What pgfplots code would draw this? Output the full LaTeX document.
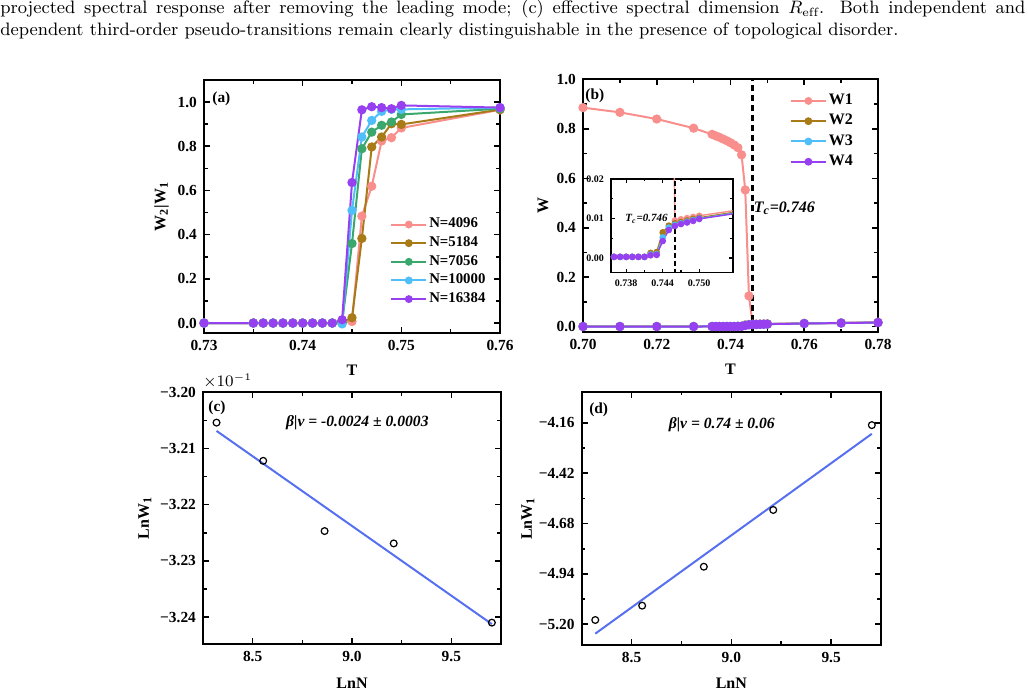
\documentclass[border=0pt]{standalone}
\usepackage{fontspec}
\usepackage{pgfplots}
\usepackage{pgfplotstable}
\pgfplotsset{compat=1.18}
\newfontfamily\tnr{Liberation Serif}

\definecolor{cpink}{RGB}{248,143,140}
\definecolor{cbrown}{RGB}{168,122,24}
\definecolor{cgreen}{RGB}{58,168,108}
\definecolor{cblue}{RGB}{80,190,248}
\definecolor{cpurple}{RGB}{150,64,240}
\definecolor{cfit}{RGB}{86,112,240}

% W2/W1 ratio for several system sizes
\pgfplotstableread{
T      N4096  N5184  N7056  N10000  N16384
0.730  0.000  0.000  0.000  0.000   0.000
0.735  0.000  0.000  0.000  0.000   0.000
0.736  0.000  0.000  0.000  0.000   0.000
0.737  0.000  0.000  0.000  0.000   0.000
0.738  0.000  0.000  0.000  0.000   0.000
0.739  0.000  0.000  0.000  0.000   0.000
0.740  0.000  0.000  0.000  0.000   0.000
0.741  0.000  0.000  0.000  0.000   0.000
0.742  0.000  0.000  0.000  0.000   0.000
0.743  0.000  0.000  0.000  0.000   0.000
0.744  0.000  0.003  0.002  -0.004  0.015
0.745  0.007  0.024  0.360  0.510   0.636
0.746  0.484  0.383  0.789  0.842   0.965
0.747  0.619  0.797  0.864  0.917   0.979
0.748  0.824  0.842  0.895  0.958   0.975
0.749  0.839  0.902  0.910  0.967   0.970
0.750  0.883  0.899  0.944  0.967   0.985
0.760  0.965  0.966  0.970  0.975   0.975
}\ratiotab

% spectral weights W1..W4
\pgfplotstableread{
T      W1      W2      W3      W4
0.700  0.886   0.0003  0.0002  0.0002
0.710  0.867   0.0003  0.0002  0.0002
0.720  0.840   0.0003  0.0002  0.0002
0.730  0.803   0.0003  0.0002  0.0002
0.735  0.778   0.0003  0.0003  0.0003
0.736  0.772   0.0003  0.0003  0.0003
0.737  0.766   0.0003  0.0003  0.0003
0.738  0.759   0.0003  0.0003  0.0003
0.739  0.752   0.0003  0.0003  0.0003
0.740  0.744   0.0003  0.0003  0.0003
0.741  0.735   0.0003  0.0003  0.0003
0.742  0.724   0.0013  0.0009  0.0007
0.743  0.695   0.0015  0.0010  0.0008
0.744  0.553   0.0065  0.0052  0.0043
0.745  0.124   0.0082  0.0077  0.0071
0.746  0.0095  0.0088  0.0084  0.0081
0.747  0.0098  0.0091  0.0088  0.0086
0.748  0.0101  0.0095  0.0092  0.0090
0.749  0.0104  0.0099  0.0096  0.0094
0.750  0.0107  0.0102  0.0100  0.0099
0.760  0.0130  0.0126  0.0124  0.0122
0.770  0.0150  0.0146  0.0144  0.0142
0.780  0.0170  0.0166  0.0164  0.0162
}\weighttab

\pgfplotsset{
  panel/.style={
    scale only axis,
    scaled ticks=false,
    axis line style={line width=1pt},
    tick align=inside,
    xtick pos=both, ytick pos=both,
    xticklabel pos=lower, yticklabel pos=left,
    major tick length=3pt, minor tick length=1.8pt,
    tick style={black, line width=0.8pt},
    minor x tick num=1, minor y tick num=1,
    tick label style={font=\tnr\bfseries\fontsize{7.7}{8.5}\selectfont},
    label style={font=\tnr\bfseries\fontsize{8}{9}\selectfont},
    /pgf/number format/assume math mode=true,
  },
  xprec/.style={xticklabel style={/pgf/number format/fixed, /pgf/number format/fixed zerofill, /pgf/number format/precision=#1}},
  yprec/.style={yticklabel style={/pgf/number format/fixed, /pgf/number format/fixed zerofill, /pgf/number format/precision=#1}},
  ser/.style={line width=1pt, mark=*, mark size=1.8pt, mark options={solid}},
  lineleg/.style={
    legend image code/.code={
      \draw[mark repeat=2,mark phase=2,##1,mark size=1.45pt] plot coordinates {(0pt,0pt) (8.75pt,0pt) (17.5pt,0pt)};
    },
  },
}

\begin{document}
\begin{tikzpicture}
\path[use as bounding box] (0pt,0pt) rectangle (514pt,347.5pt);

\node[anchor=base west, inner sep=0pt, font=\fontsize{9}{11}\selectfont] at (0pt,340.5pt)
  {\hbox to 512.5pt{projected spectral response after removing the leading mode; (c) effective spectral dimension $R_{\mathrm{eff}}$. Both independent and}};
\node[anchor=base west, inner sep=0pt, font=\fontsize{9}{11}\selectfont] at (0pt,329.5pt)
  {dependent third-order pseudo-transitions remain clearly distinguishable in the presence of topological disorder.};

% (a) ratio W2/W1
\begin{axis}[panel, lineleg, xprec=2, yprec=1,
  at={(102pt,181pt)}, anchor=south west,
  width=148pt, height=126.5pt,
  xmin=0.73, xmax=0.76, ymin=-0.045, ymax=1.1,
  xtick={0.73,0.74,0.75,0.76}, ytick={0,0.2,0.4,0.6,0.8,1.0},
  xlabel={T}, ylabel={W\textsubscript{2}|W\textsubscript{1}},
  xlabel style={at={(axis description cs:0.5,-0.146)},anchor=center},
  ylabel style={at={(axis description cs:-0.143,0.5)},anchor=center},
  legend cell align=left,
  legend style={draw=none, fill=none, at={(rel axis cs:0.628,0.462)}, anchor=north west,
    font=\tnr\bfseries\fontsize{7.4}{8}\selectfont, inner sep=0pt, row sep=1.3pt,
    nodes={inner xsep=1pt, inner ysep=0.8pt}},
]
\addplot[cpink, ser] table[x=T,y=N4096]{\ratiotab}; \addlegendentry{N=4096}
\addplot[cbrown, ser] table[x=T,y=N5184]{\ratiotab}; \addlegendentry{N=5184}
\addplot[cgreen, ser] table[x=T,y=N7056]{\ratiotab}; \addlegendentry{N=7056}
\addplot[cblue, ser] table[x=T,y=N10000]{\ratiotab}; \addlegendentry{N=10000}
\addplot[cpurple, ser] table[x=T,y=N16384]{\ratiotab}; \addlegendentry{N=16384}
\node[anchor=north west, inner sep=0pt, font=\tnr\bfseries\fontsize{7.7}{8}\selectfont] at (rel axis cs:0.027,0.953) {(a)};
\end{axis}

% (b) weights W1..W4
\begin{axis}[panel, lineleg, xprec=2, yprec=1,
  at={(291.5pt,181.25pt)}, anchor=south west,
  width=147.5pt, height=126.5pt,
  xmin=0.70, xmax=0.78, ymin=-0.024, ymax=1.0,
  xtick={0.70,0.72,0.74,0.76,0.78}, ytick={0,0.2,0.4,0.6,0.8,1.0},
  xlabel={T}, ylabel={W},
  xlabel style={at={(axis description cs:0.5,-0.146)},anchor=center},
  ylabel style={at={(axis description cs:-0.136,0.5)},anchor=center},
  legend cell align=left,
  legend style={draw=none, fill=none, at={(rel axis cs:0.700,0.950)}, anchor=north west,
    font=\tnr\bfseries\fontsize{8}{8.5}\selectfont, inner sep=0pt, row sep=1.75pt,
    nodes={inner xsep=1pt, inner ysep=0.8pt}},
]
\addplot[cpink, ser] table[x=T,y=W1]{\weighttab}; \addlegendentry{W1}
\addplot[cbrown, ser] table[x=T,y=W2]{\weighttab}; \addlegendentry{W2}
\addplot[cblue, ser] table[x=T,y=W3]{\weighttab}; \addlegendentry{W3}
\addplot[cpurple, ser] table[x=T,y=W4]{\weighttab}; \addlegendentry{W4}
\addplot[black, line width=1.2pt, dash pattern=on 3pt off 2pt, forget plot] coordinates {(0.746,-0.1) (0.746,1.1)};
\node[anchor=west, inner sep=0pt, font=\tnr\bfseries\itshape\fontsize{8}{9}\selectfont] at (axis cs:0.7462,0.48) {T\textsubscript{c}=0.746};
\node[anchor=north west, inner sep=0pt, font=\tnr\bfseries\fontsize{7.7}{8}\selectfont] at (rel axis cs:0.007,0.966) {(b)};
\end{axis}

% (b) inset near the transition
\begin{axis}[panel, xprec=3, yprec=2,
  at={(305.5pt,211.15pt)}, anchor=south west,
  width=60.85pt, height=46.85pt,
  axis background/.style={fill=white},
  axis line style={line width=0.8pt},
  major tick length=2pt, minor tick length=1.2pt,
  tick style={black, line width=0.6pt},
  tick label style={font=\tnr\bfseries\fontsize{5}{6}\selectfont},
  xmin=0.7355, xmax=0.7555, ymin=-0.0037, ymax=0.02,
  xtick={0.738,0.744,0.750}, ytick={0,0.01,0.02},
]
\addplot[cpink, line width=0.7pt, mark=*, mark size=1.3pt] table[x=T,y=W1]{\weighttab};
\addplot[cbrown, line width=0.7pt, mark=*, mark size=1.3pt] table[x=T,y=W2]{\weighttab};
\addplot[cblue, line width=0.7pt, mark=*, mark size=1.3pt] table[x=T,y=W3]{\weighttab};
\addplot[cpurple, line width=0.7pt, mark=*, mark size=1.3pt] table[x=T,y=W4]{\weighttab};
\addplot[black, line width=1pt, dash pattern=on 2.5pt off 1.5pt] coordinates {(0.746,-0.01) (0.746,0.03)};
\node[anchor=west, inner sep=0pt, font=\tnr\bfseries\itshape\fontsize{5.5}{6}\selectfont] at (axis cs:0.7378,0.0098) {T\textsubscript{c}=0.746};
\end{axis}

% (c) scaling of LnW1, first case
\begin{axis}[panel, xprec=1, name=axc,
  at={(101.5pt,25.5pt)}, anchor=south west,
  width=149pt, height=126pt,
  xmin=8.25, xmax=9.75, ymin=-0.32448, ymax=-0.319995,
  xtick={8.5,9.0,9.5}, ytick={-0.320,-0.321,-0.322,-0.323,-0.324},
  yticklabels={−3.20,−3.21,−3.22,−3.23,−3.24},
  xlabel={LnN}, ylabel={LnW\textsubscript{1}},
  xlabel style={at={(axis description cs:0.5,-0.155)},anchor=center},
  ylabel style={at={(axis description cs:-0.195,0.5)},anchor=center},
]
\addplot[cfit, line width=1pt] coordinates {(8.318,-0.320687) (9.704,-0.324126)};
\addplot[only marks, mark=o, mark size=1.7pt, black, line width=0.6pt] coordinates {
  (8.318,-0.32054) (8.553,-0.32122) (8.862,-0.32247) (9.210,-0.32269) (9.704,-0.32410)};
\node[anchor=north west, inner sep=0pt, font=\tnr\bfseries\fontsize{7.7}{8}\selectfont] at (rel axis cs:0.017,0.968) {(c)};
\node[inner sep=0pt, font=\tnr\bfseries\itshape\fontsize{7.8}{8}\selectfont] at (rel axis cs:0.518,0.877) {β|ν = -0.0024 ± 0.0003};
\end{axis}
\node[anchor=south west, inner sep=0pt, yshift=1.8pt, font=\fontsize{7.8}{8}\selectfont] at (axc.north west) {$\times10^{-1}$};

% (d) scaling of LnW1, second case
\begin{axis}[panel, xprec=1,
  at={(290.85pt,25pt)}, anchor=south west,
  width=149.65pt, height=126.6pt,
  xmin=8.25, xmax=9.75, ymin=-5.307, ymax=-4.0,
  xtick={8.5,9.0,9.5}, ytick={-5.20,-4.94,-4.68,-4.42,-4.16},
  yticklabels={−5.20,−4.94,−4.68,−4.42,−4.16},
  xlabel={LnN}, ylabel={LnW\textsubscript{1}},
  xlabel style={at={(axis description cs:0.5,-0.15)},anchor=center},
  ylabel style={at={(axis description cs:-0.18,0.5)},anchor=center},
]
\addplot[cfit, line width=1pt] coordinates {(8.318,-5.2485) (9.704,-4.2169)};
\addplot[only marks, mark=o, mark size=1.7pt, black, line width=0.6pt] coordinates {
  (8.318,-5.178) (8.553,-5.104) (8.862,-4.903) (9.210,-4.610) (9.704,-4.172)};
\node[anchor=north west, inner sep=0pt, font=\tnr\bfseries\fontsize{7.7}{8}\selectfont] at (rel axis cs:0.024,0.96) {(d)};
\node[inner sep=0pt, font=\tnr\bfseries\itshape\fontsize{7.8}{8}\selectfont] at (rel axis cs:0.468,0.870) {β|ν = 0.74 ± 0.06};
\end{axis}
\end{tikzpicture}
\end{document}
